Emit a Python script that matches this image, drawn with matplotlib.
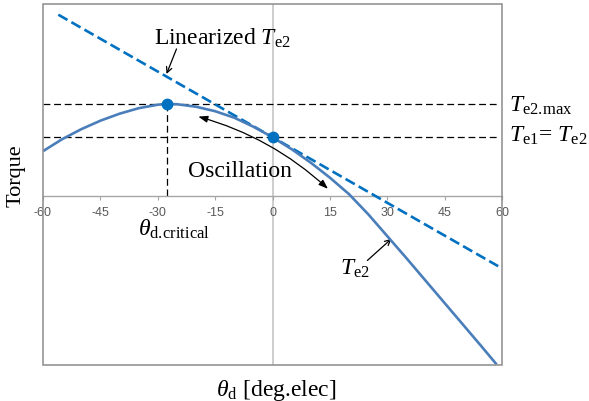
import matplotlib
matplotlib.use("Agg")
import matplotlib.pyplot as plt
from matplotlib.patches import Rectangle

plt.rcParams['font.family'] = 'Liberation Serif'
plt.rcParams['mathtext.fontset'] = 'custom'
plt.rcParams['mathtext.rm'] = 'Liberation Serif'
plt.rcParams['mathtext.it'] = 'Liberation Serif:italic'

# Te2 torque curve vs load angle (deg.elec), torque in p.u.
theta = [-60, -55, -50, -45, -40, -35, -30, -27.7, -25, -20, -15, -10, -5, 0,
         5, 10, 15, 20, 25, 30, 35, 40, 45, 50, 55, 58.6]
te2 = [0.45, 0.57, 0.67, 0.755, 0.825, 0.88, 0.915, 0.923, 0.92, 0.895, 0.85,
       0.785, 0.695, 0.59, 0.47, 0.335, 0.185, 0.02, -0.18, -0.40, -0.62,
       -0.845, -1.07, -1.295, -1.52, -1.685]

# tangent at the operating point
lin_theta = [-56.0, 59.0]
lin_te2 = [1.816, -0.701]

# operating point (Te1 = Te2) and maximum
theta_op, t_op = 0, 0.59
theta_crit, t_max = -27.7, 0.923

xticks = [-60, -45, -30, -15, 0, 15, 30, 45, 60]

fig = plt.figure(figsize=(5.89, 4.02), dpi=100)
ax = fig.add_axes([43 / 589, 36 / 402, 459 / 589, 361.3 / 402])
ax.set_xlim(-60, 60)
ax.set_ylim(-1.69, 1.926)

# frame around the plot area
for s in ['top', 'right', 'left']:
    ax.spines[s].set_visible(False)
ax.add_patch(Rectangle((0, 0), 1, 1, transform=ax.transAxes, fill=False,
                       edgecolor='#8c8c8c', lw=1.1, clip_on=False, zorder=5))

# horizontal axis crossing at zero torque
ax.spines['bottom'].set_position(('data', 0))
ax.spines['bottom'].set_color('#a6a6a6')
ax.spines['bottom'].set_linewidth(1.0)
ax.set_xticks(xticks)
ax.set_xticklabels([str(t) for t in xticks])
ax.tick_params(axis='x', direction='out', length=3, width=0.8, color='#a6a6a6',
               pad=4, labelsize=9, labelcolor='#595959')
for lab in ax.get_xticklabels():
    lab.set_family('Liberation Sans')
ax.set_yticks([])

ax.axvline(0, color='#c0c0c0', lw=1.1, zorder=1)

# reference levels
dash_k = (0, (5.5, 3))
ax.plot([-60, 58.6], [t_max, t_max], color='black', lw=0.9, ls=dash_k, zorder=2)
ax.plot([-60, 58.6], [t_op, t_op], color='black', lw=0.9, ls=dash_k, zorder=2)
ax.plot([theta_crit, theta_crit], [t_max, 0], color='black', lw=0.9, ls=dash_k, zorder=2)

ax.plot(lin_theta, lin_te2, color='#0070c0', lw=1.9, ls=(0, (4, 1.7)), zorder=3)
ax.plot(theta, te2, color='#4a7ebb', lw=1.9, zorder=4, solid_capstyle='butt',
        solid_joinstyle='round')
ax.plot([theta_crit, theta_op], [t_max, t_op], 'o', color='#0070c0', ms=8.5,
        mec='none', zorder=6)

fs = 17

# annotations
ax.text(-31.0, 1.523, r'Linearized $T_{\rm e2}$', fontsize=fs, va='baseline', ha='left')
ax.annotate('', xy=(-27.7, 1.223), xytext=(-25.1, 1.473),
            arrowprops=dict(arrowstyle='->', color='black', lw=0.9, shrinkA=0, shrinkB=0))

ax.text(-22.1, 0.206, 'Oscillation', fontsize=fs, va='baseline', ha='left')
ax.annotate('', xy=(14.5, 0.073), xytext=(-19.4, 0.796),
            arrowprops=dict(arrowstyle='<|-|>,head_length=0.55,head_width=0.2',
                            color='black', lw=0.9, shrinkA=0, shrinkB=0,
                            connectionstyle='arc3,rad=-0.12'))

ax.text(-35.2, -0.39, r'$\theta_{\rm d.\!critical}$', fontsize=fs, va='baseline', ha='left')

ax.text(17.6, -0.777, r'$T_{\rm e2}$', fontsize=fs, va='baseline', ha='left')
ax.annotate('', xy=(31.1, -0.427), xytext=(24.8, -0.644),
            arrowprops=dict(arrowstyle='->', color='black', lw=0.9, shrinkA=0, shrinkB=0))

fig.text(509 / 589, (402 - 111.7) / 402, r'$T_{\rm e2.\!max}$', fontsize=fs, va='baseline', ha='left')
fig.text(509 / 589, (402 - 141.7) / 402, r'$T_{\rm e1}$= $T_{\rm e2}$', fontsize=fs,
         va='baseline', ha='left')

fig.text(276 / 589, (402 - 396) / 402, r'$\theta_{\rm d}$ [deg.elec]', fontsize=fs,
         va='baseline', ha='center')
fig.text(15.7 / 589, (402 - 176) / 402, 'Torque', fontsize=16, rotation=90,
         va='center', ha='center')

fig.savefig('out.png', dpi=100)
